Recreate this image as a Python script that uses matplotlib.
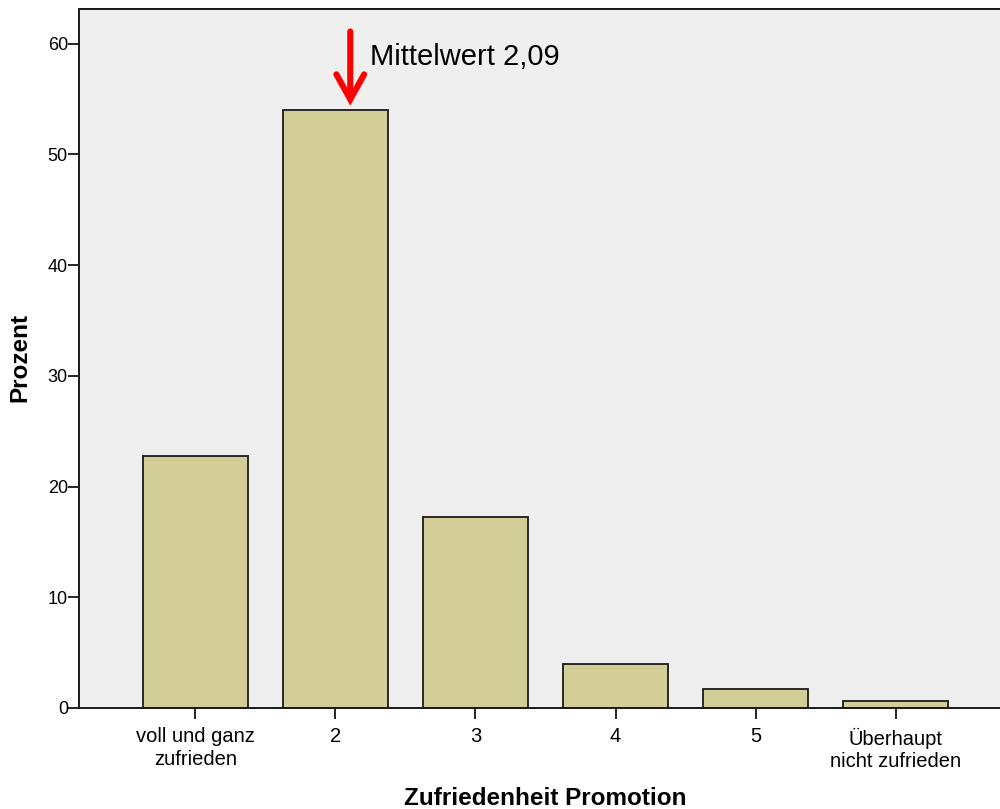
import matplotlib
matplotlib.use("Agg")
import matplotlib.pyplot as plt

plt.rcParams['font.family'] = ['Liberation Sans', 'DejaVu Sans']

categories = ["voll und ganz\nzufrieden", "2", "3", "4", "5", "Überhaupt\nnicht zufrieden"]
percent = [22.8, 54.0, 17.25, 3.97, 1.72, 0.63]
y_ticks = [0, 10, 20, 30, 40, 50, 60]
mean_label = "Mittelwert 2,09"
arrow_x = 2.107

fig = plt.figure(figsize=(10, 8.09), dpi=100)
ax = fig.add_axes([0.079, (809 - 708) / 809, 0.921, (708 - 9.3) / 809])
ax.set_facecolor('#EFEFEF')

x = list(range(1, len(categories) + 1))
ax.bar(x, percent, width=0.75, color='#D3CE97', edgecolor='#1a1a1a', linewidth=1.3, zorder=2)

ax.set_xlim(1 - 116 / 140, 6 + 104 / 140)
ax.set_ylim(0, 63.1)
ax.set_xticks(x)
ax.set_xticklabels(categories, fontsize=14.5, linespacing=1.22)
ax.set_yticks(y_ticks)
ax.set_yticklabels([str(v) for v in y_ticks], fontsize=13)

ax.tick_params(axis='y', length=8, width=1.2, pad=0, direction='out', colors='black')
ax.tick_params(axis='x', length=8, width=1.2, pad=6, direction='out', colors='black')

for s in ['left', 'bottom', 'top']:
    ax.spines[s].set_linewidth(1.4)
    ax.spines[s].set_color('#1a1a1a')
ax.spines['right'].set_visible(False)

# Mean arrow and label
ax.annotate('', xy=(arrow_x, 54.4), xytext=(arrow_x, 61.1),
            arrowprops=dict(arrowstyle='->,head_length=0.9,head_width=0.5',
                            color='red', lw=4.4, shrinkA=0, shrinkB=0,
                            mutation_scale=20, joinstyle='miter'),
            zorder=5)
ax.text(arrow_x + 20 / 140, 58.1, mean_label, fontsize=21, ha='left', va='baseline', color='black')

fig.text(0.020, (809 - 357) / 809, "Prozent", rotation=90, fontsize=17.5, fontweight='bold',
         ha='center', va='center')
fig.text(0.545, (809 - 805) / 809, "Zufriedenheit Promotion", fontsize=17.5, fontweight='bold',
         ha='center', va='baseline')

fig.savefig("out.png", dpi=100)
